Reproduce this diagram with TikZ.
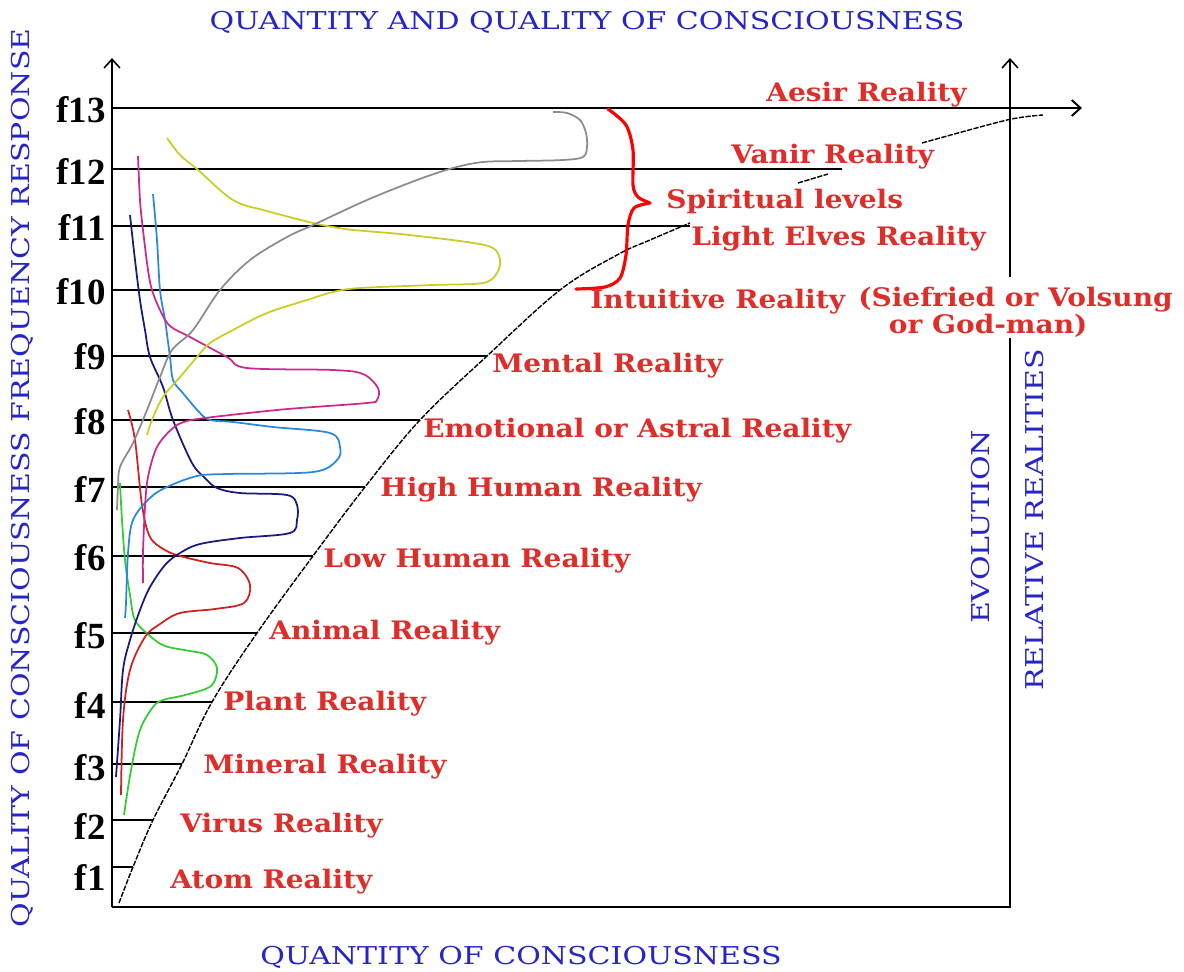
\documentclass[tikz,border=0pt]{standalone}
\usepackage{fontspec}
\setmainfont{DejaVu Serif}
\newfontfamily\levelfont{Liberation Serif}
\newfontfamily\realfont{DejaVu Serif}[FakeStretch=1.1]
\newfontfamily\axisfont{DejaVu Serif}[FakeStretch=1.22]
\usepackage{tikz}
\usetikzlibrary{arrows.meta}
\definecolor{realred}{HTML}{DD2E2A}
\definecolor{axisblue}{HTML}{2626C8}
\definecolor{cgreen}{HTML}{33CC33}
\definecolor{cred}{HTML}{CC2222}
\definecolor{cnavy}{HTML}{1A1A7A}
\definecolor{clblue}{HTML}{2A88DD}
\definecolor{cmag}{HTML}{CC2A8A}
\definecolor{cyel}{HTML}{CCCC22}
\definecolor{cgray}{HTML}{8C8C8C}

\begin{document}
\begin{tikzpicture}[
      x=0.02cm, y=-0.02cm,
      lvl/.style={draw, line width=1.1pt},
      axisline/.style={draw, line width=0.9pt},
      evoline/.style={draw, line width=0.8pt, dash pattern=on 3pt off 0.8pt},
      wave/.style={line width=1pt, smooth, tension=0.55},
      reality/.style={text=realred, font=\realfont\bfseries\fontsize{14.5}{13.7}\selectfont, anchor=west, inner sep=0pt},
      flabel/.style={font=\levelfont\bfseries\fontsize{21}{22}\selectfont, anchor=east, inner sep=0pt},
      axislabel/.style={text=axisblue, font=\axisfont\fontsize{14}{16}\selectfont, inner sep=0pt},
      >={Straight Barb[length=5pt, width=9pt]}
    ]
    \useasboundingbox (0,0) rectangle (1184,971);

    % axes
    \draw[axisline, ->] (112,907) -- (112,58);
    \draw[axisline] (112,907) -- (1010,907) -- (1010,338);
    \draw[axisline, ->] (1010,277) -- (1010,58);
    \draw[lvl, ->] (112,108) -- (1082,108);

    % frequency levels
    \foreach \n/\y/\xe/\ly in {1/867/133/877, 2/820/153/826, 3/764/182/768,
        4/702/212/705, 5/633/257/636, 6/556/313/558, 7/487/365/490,
        8/420/420/422, 9/356/487/357, 10/290/560/292, 11/226/690/228,
        12/169/842/172} {
      \draw[lvl] (112,\y) -- (\xe,\y);
      \node[flabel] (f\n) at (106,\ly) {f\n};
    }
    \node[flabel] (f13) at (106,110) {f13};

    % evolution curve
    \draw[evoline] plot[smooth, tension=0.6] coordinates {(119,903) (133,867) (153,820)
      (182,764) (212,702) (257,633) (313,556) (365,487) (420,420) (487,356)
      (560,290) (617,255) (650,240) (690,223)};
    \draw[evoline] (798,183) -- (828,174);
    \draw[evoline] plot[smooth] coordinates {(922,143) (1007,120) (1043,115)};

    % response curves
    \draw[wave, cgreen] plot coordinates {(120,483) (122,520) (125,560) (130,595)
      (135,620) (150,636) (165,646) (190,651) (207,655) (217,668) (211,686)
      (185,695) (163,700) (153,707) (140,730) (131,770) (124,815)};
    \draw[wave, cred] plot coordinates {(128,410) (135,440) (142,505) (150,537)
      (165,550) (180,556) (210,563) (238,568) (250,585) (244,603) (215,609)
      (180,613) (160,624) (145,637) (130,670) (123,720) (121,795)};
    \draw[wave, cnavy] plot coordinates {(130,215) (135,260) (140,300) (145,330)
      (150,357) (163,387) (173,420) (192,463) (205,478) (217,488) (240,493)
      (287,495) (297,505) (297,520) (290,533) (240,538) (200,544) (180,553)
      (165,565) (150,587) (140,610) (130,640) (123,670) (120,720) (116,777)};
    \draw[wave, clblue] plot coordinates {(153,194) (157,240) (160,290) (165,320)
      (170,357) (173,380) (182,392) (200,413) (210,420) (233,422) (273,427)
      (330,433) (340,447) (337,460) (313,472) (227,474) (197,476) (167,487)
      (150,498) (133,520) (128,553) (126,603) (125,618)};
    \draw[wave, cmag] plot coordinates {(138,156) (140,200) (143,230) (148,270)
      (152,290) (160,310) (170,326) (190,337) (227,357) (247,368) (333,370)
      (363,374) (378,388) (377,400) (367,403) (300,408) (267,411) (213,417)
      (187,421) (173,428) (157,447) (148,477) (145,507) (143,553) (143,583)};
    \draw[wave, cyel] plot coordinates {(167,138) (180,155) (197,169) (233,200)
      (267,211) (313,223) (333,227) (353,230) (400,234) (467,242) (493,248)
      (500,260) (497,273) (483,283) (433,285) (360,288) (333,292) (307,300)
      (267,313) (233,330) (210,343) (197,357) (180,377) (163,397) (152,420)
      (147,435)};
    \draw[wave, cgray] plot coordinates {(117,510) (118,487) (120,467) (133,443)
      (147,410) (160,377) (172,350) (193,330) (220,290) (250,260) (287,237)
      (313,225) (367,200) (417,180) (453,168) (483,162) (520,161) (563,160)
      (583,157) (587,147) (586,133) (580,120) (567,113) (553,112)};

    % spiritual brace
    \draw[red, line width=1.8pt, line cap=round] plot[smooth] coordinates {(608,109)
      (626,125) (633,150) (633,185) (638,197) (650,203)};
    \draw[red, line width=1.8pt, line cap=round] plot[smooth] coordinates {(650,203)
      (634,208) (628,225) (626,255) (620,278) (605,287) (576,289)};

    % realities
    \node[reality] (aesir) at (766,95) {Aesir Reality};
    \node[reality] (vanir) at (731,157) {Vanir Reality};
    \node[reality] (spirit) at (666,201) {Spiritual levels};
    \node[reality] (elves) at (691,239) {Light Elves Reality};
    \node[reality] (intuit) at (590,302) {Intuitive Reality};
    \node[reality, align=left, anchor=north west] (sieg) at (858,287)
      {(Siefried or Volsung\\\hspace*{1.2em}or God-man)};
    \node[reality] (mental) at (492,366) {Mental Reality};
    \node[reality] (astral) at (423,431) {Emotional or Astral Reality};
    \node[reality] (high) at (380,490) {High Human Reality};
    \node[reality] (low) at (323,561) {Low Human Reality};
    \node[reality] (animal) at (269,633) {Animal Reality};
    \node[reality] (plant) at (223,704) {Plant Reality};
    \node[reality] (mineral) at (203,767) {Mineral Reality};
    \node[reality] (virus) at (180,826) {Virus Reality};
    \node[reality] (atom) at (170,882) {Atom Reality};

    % axis titles
    \node[axislabel] (toptitle) at (587,22) {QUANTITY AND QUALITY OF CONSCIOUSNESS};
    \node[axislabel] (bottitle) at (521,957) {QUANTITY OF CONSCIOUSNESS};
    \node[axislabel, rotate=90] (lefttitle) at (22,478) {QUALITY OF CONSCIOUSNESS FREQUENCY RESPONSE};
    \node[axislabel, rotate=90] (evo) at (981,527) {EVOLUTION};
    \node[axislabel, rotate=90] (relreal) at (1035,520) {RELATIVE REALITIES};
\end{tikzpicture}
\end{document}
